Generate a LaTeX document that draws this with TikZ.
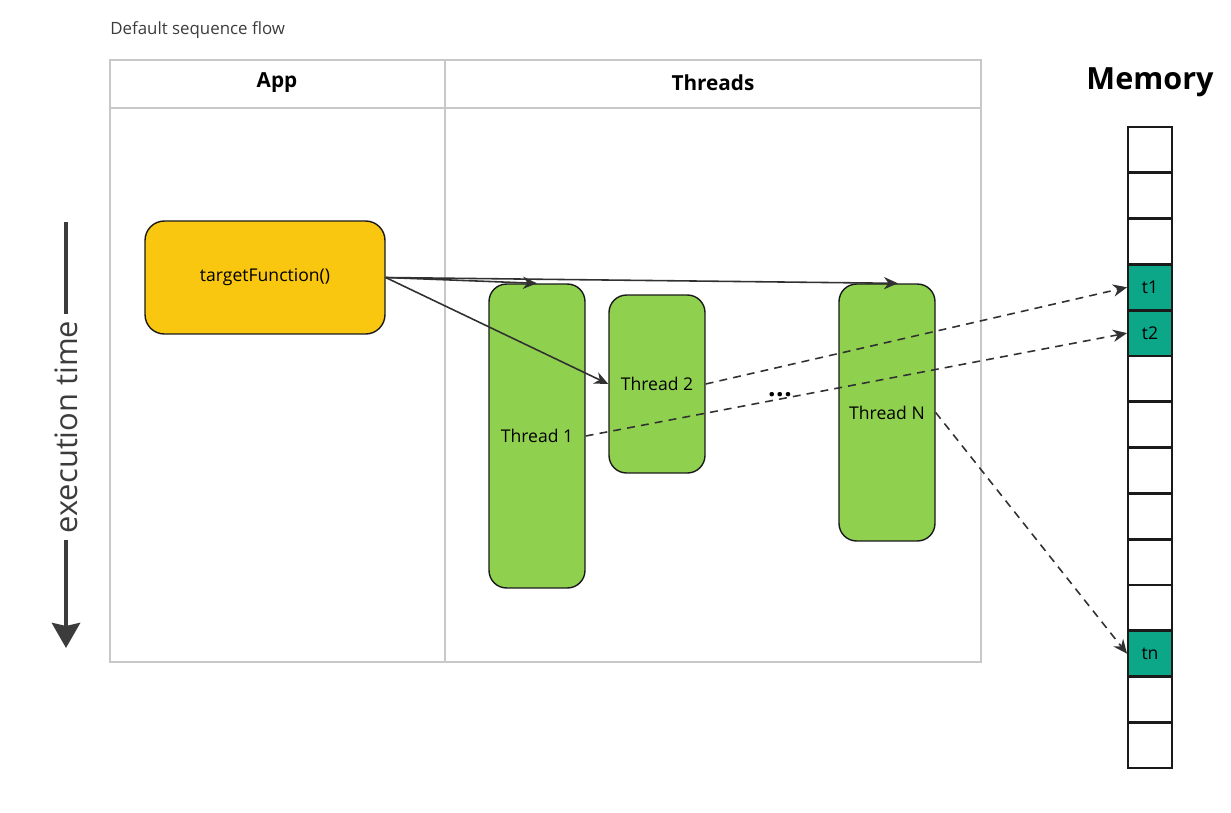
\documentclass[tikz,border=0pt]{standalone}
\usepackage{fontspec}
\setmainfont{Open Sans}
\usetikzlibrary{arrows.meta}

\definecolor{appyellow}{HTML}{FAC710}
\definecolor{threadgreen}{HTML}{8FD14F}
\definecolor{memteal}{HTML}{0CA789}
\definecolor{lanegray}{HTML}{C8C8C8}
\definecolor{inkdark}{HTML}{1A1A1A}

\begin{document}
\begin{tikzpicture}[x=0.02cm,y=-0.02cm,
	app_node/.style={draw=inkdark,line width=0.8pt,fill=appyellow,rounded corners=11pt,minimum width=4.8cm,minimum height=2.26cm,font=\fontsize{10}{12}\selectfont},
	thread_node/.style={draw=inkdark,line width=0.8pt,fill=threadgreen,rounded corners=10pt,minimum width=1.92cm,inner sep=0pt,font=\fontsize{10}{12}\selectfont},
	mem_cell/.style={draw=inkdark,line width=1.1pt,fill=white,minimum width=0.88cm,minimum height=0.9cm,inner sep=0pt,font=\fontsize{10}{12}\selectfont},
	used_cell/.style={mem_cell,fill=memteal},
	call_arrow/.style={-{Stealth[length=8pt,width=7pt]},line width=0.9pt,draw=inkdark!90},
	store_arrow/.style={call_arrow,dash pattern=on 4.5pt off 3.5pt}]
		
		\useasboundingbox (0,0) rectangle (1231,812);
		
		% lanes
		\node[anchor=west,inner sep=0pt,font=\fontsize{9.6}{12}\selectfont,text=inkdark!85] (title) at (110,30) {Default sequence flow};
		\draw[lanegray,line width=0.6pt] (110,60) rectangle (981,662);
		\draw[lanegray,line width=0.6pt] (110,108) -- (981,108);
		\draw[lanegray,line width=0.6pt] (445,60) -- (445,662);
		\node[font=\bfseries\fontsize{11.8}{14}\selectfont] (app_lane) at (277,83) {App};
		\node[font=\bfseries\fontsize{11.8}{14}\selectfont] (thread_lane) at (713,83) {Threads};
		
		% execution time
		\coordinate (time_top) at (66,222);
		\coordinate (time_end) at (66,648);
		\node[rotate=90,font=\fontsize{17.6}{20}\selectfont,text=inkdark!85] (time) at (66,427) {execution time};
		\draw[line width=2.8pt,inkdark!85] (time_top) -- (time.east);
		\draw[line width=2.8pt,inkdark!85,-{Stealth[length=0.5cm,width=0.56cm,inset=0.06cm]}] (time.west) -- (time_end);
		
		% app and threads
		\node[app_node] (app) at (265,277.5) {targetFunction()};
		\node[thread_node,minimum height=6.08cm] (th1) at (537,436) {Thread 1};
		\node[thread_node,minimum height=3.56cm] (th2) at (657,384) {Thread 2};
		\node[thread_node,minimum height=5.14cm] (thN) at (887,412.5) {Thread N};
		
		% memory
		\node[font=\bfseries\fontsize{17.4}{20}\selectfont] (mem_title) at (1150,82) {Memory};
		\node[mem_cell] (m1) at (1150,149.9) {};
		\node[mem_cell] (m2) at (1150,195.7) {};
		\node[mem_cell] (m3) at (1150,241.5) {};
		\node[used_cell] (t1) at (1150,287.3) {t1};
		\node[used_cell] (t2) at (1150,333.1) {t2};
		\node[mem_cell] (m6) at (1150,378.9) {};
		\node[mem_cell] (m7) at (1150,424.7) {};
		\node[mem_cell] (m8) at (1150,470.5) {};
		\node[mem_cell] (m9) at (1150,516.3) {};
		\node[mem_cell] (m10) at (1150,562.1) {};
		\node[mem_cell] (m11) at (1150,607.9) {};
		\node[used_cell] (tn) at (1150,653.7) {tn};
		\node[mem_cell] (m13) at (1150,699.5) {};
		\node[mem_cell] (m14) at (1150,745.3) {};
		
		\draw[call_arrow] (app.east) -- (th1.north);
		\draw[call_arrow] (app.east) -- ([xshift=0.22cm]thN.north);
		\draw[call_arrow] (app.east) -- (th2.west);
		
		\draw[store_arrow] (th2.east) -- (t1.west);
		\draw[store_arrow] (th1.east) -- (t2.west);
		\draw[store_arrow] (thN.east) -- (tn.west);
		
		\node[anchor=base,inner sep=0pt,font=\bfseries\fontsize{15}{15}\selectfont] (dots) at (780,396) {.\kern0.3pt.\kern0.3pt.};
		\end{tikzpicture}
\end{document}
